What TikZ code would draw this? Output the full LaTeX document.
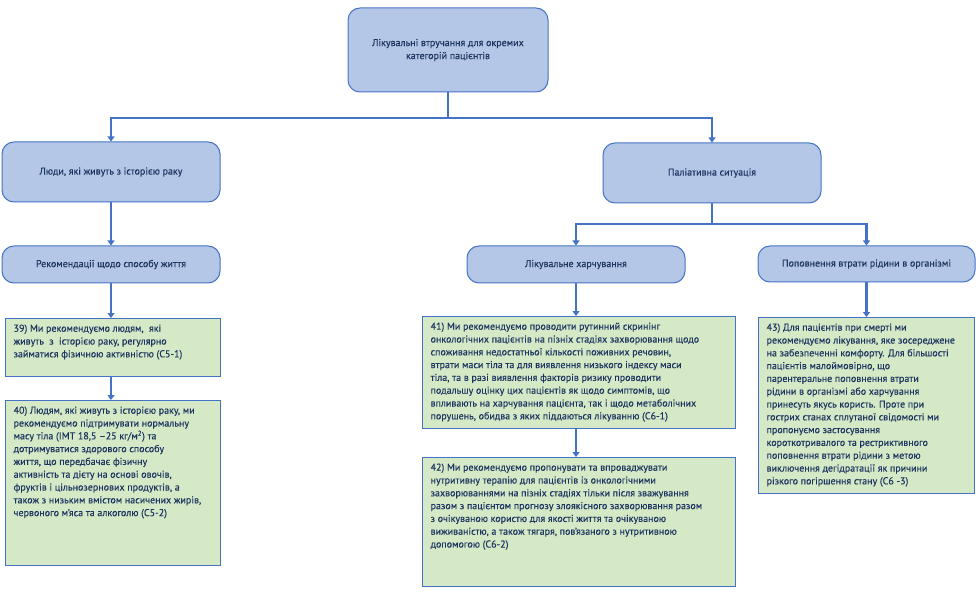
\documentclass[tikz,border=0pt]{standalone}
\usepackage{fontspec}
\setmainfont{PT Sans}[FakeBold=0.25]
\usetikzlibrary{arrows.meta}
\definecolor{bfill}{HTML}{B4C7E7}
\definecolor{bline}{HTML}{4472C4}
\definecolor{gfill}{HTML}{D6E9C6}
\definecolor{tcol}{HTML}{1C3460}
\newcommand{\gtxt}[3]{\parbox[c][#2][t]{#1}{\raggedright\fontsize{10}{12.8}\selectfont #3}}
\tikzset{
  bluebox/.style={draw=bline, fill=bfill, rounded corners=12pt, line width=1pt, text=tcol, align=center, inner sep=0pt, font=\fontsize{10}{13}\selectfont},
  greenbox/.style={draw=bline, fill=gfill, line width=1.2pt, inner xsep=8pt, inner ysep=6pt, text=tcol, anchor=north west},
  conn/.style={draw=bline, line width=2.6pt, -{Triangle[width=7pt,length=5pt]}},
}
\begin{document}
\begin{tikzpicture}[x=1pt,y=-1pt]
\useasboundingbox (0,0) rectangle (976,593);
\node[bluebox, minimum width=200pt, minimum height=84pt] (top) at (448,50) {Лікувальні втручання для окремих\\категорій пацієнтів};
\node[bluebox, minimum width=218pt, minimum height=60pt] (left1) at (111,172) {Люди, які живуть з історією раку};
\node[bluebox, minimum width=218pt, minimum height=37pt] (left2) at (111,264.5) {Рекомендації щодо способу життя};
\node[bluebox, minimum width=218pt, minimum height=60pt] (right1) at (712,173) {Паліативна ситуація};
\node[bluebox, minimum width=218pt, minimum height=37pt] (mid2) at (576,264.5) {Лікувальне харчування};
\node[bluebox, minimum width=217pt, minimum height=36pt] (right2) at (866.5,264) {Поповнення втрати рідини в організмі};

\node[greenbox] (g39) at (5,318) {\gtxt{199pt}{46pt}{39) Ми рекомендуємо людям,\ \ які\\живуть\ \ з\ \ історією раку, регулярно\\займатися фізичною активністю (C5-1)}};
\node[greenbox] (g40) at (5,400) {\gtxt{199pt}{153pt}{40) Людям, які живуть з історією раку, ми\\рекомендуємо підтримувати нормальну\\масу тіла (ІМТ 18,5 –25 кг/м\textsuperscript{2}) та\\дотримуватися здорового способу\\життя, що передбачає фізичну\\активність та дієту на основі овочів,\\фруктів і цільнозернових продуктів, а\\також з низьким вмістом насичених жирів,\\червоного м'яса та алкоголю (C5-2)}};
\node[greenbox] (g41) at (422,316) {\gtxt{297pt}{100pt}{41) Ми рекомендуємо проводити рутинний скринінг\\онкологічних пацієнтів на пізніх стадіях захворювання щодо\\споживання недостатньої кількості поживних речовин,\\втрати маси тіла та для виявлення низького індексу маси\\тіла, та в разі виявлення факторів ризику проводити\\подальшу оцінку цих пацієнтів як щодо симптомів, що\\впливають на харчування пацієнта, так і щодо метаболічних\\порушень, обидва з яких піддаються лікуванню (C6-1)}};
\node[greenbox] (g42) at (422,457) {\gtxt{297pt}{117pt}{42) Ми рекомендуємо пропонувати та впроваджувати\\нутритивну терапію для пацієнтів із онкологічними\\захворюваннями на пізніх стадіях тільки після зважування\\разом з пацієнтом прогнозу злоякісного захворювання разом\\з очікуваною користю для якості життя та очікуваною\\виживаністю, а також тягаря, пов'язаного з нутритивною\\допомогою (C6-2)}};
\node[greenbox] (g43) at (758,317) {\gtxt{200pt}{164pt}{43) Для пацієнтів при смерті ми\\рекомендуємо лікування, яке зосереджене\\на забезпеченні комфорту. Для більшості\\пацієнтів малоймовірно, що\\парентеральне поповнення втрати\\рідини в організмі або харчування\\принесуть якусь користь. Проте при\\гострих станах сплутаної свідомості ми\\пропонуємо застосування\\короткотривалого та рестриктивного\\поповнення втрати рідини з метою\\виключення дегідратації як причини\\різкого погіршення стану (C6 -3)}};

\coordinate (j1) at (448,118);
\coordinate (j2) at (712,224);
\draw[conn] (top.south) -- (j1) -| (left1.north);
\draw[conn] (j1) -| (right1.north);
\draw[conn] (left1.south) -- (left2.north);
\draw[conn] (left2.south) -- (left2.south |- g39.north);
\draw[conn] (g39.south -| left2.south) -- (left2.south |- g40.north);
\draw[conn] (right1.south) -- (j2) -| (mid2.north);
\draw[conn] (j2) -| (right2.north);
\draw[conn] (mid2.south) -- (mid2.south |- g41.north);
\draw[conn] (g41.south -| mid2.south) -- (mid2.south |- g42.north);
\draw[conn] (right2.south) -- (right2.south |- g43.north);
\end{tikzpicture}
\end{document}
